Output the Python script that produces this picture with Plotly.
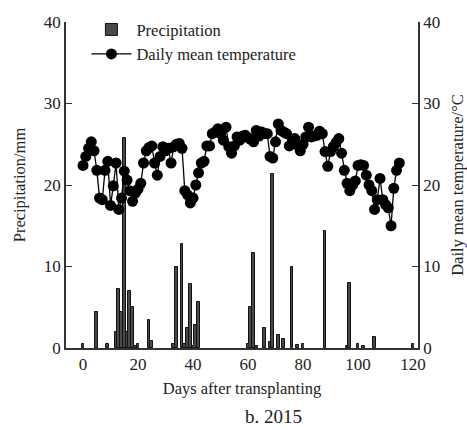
import plotly.graph_objects as go

# Daily mean temperature (°C), days 0..115
temp_days = list(range(0, 116))
temperature = [
    22.4, 23.5, 24.5, 25.3, 24.2, 21.8, 18.4, 18.2, 21.8, 22.9,
    17.5, 19.9, 22.7, 17.0, 18.4, 21.7, 20.6, 19.3, 18.0, 19.0,
    19.5, 20.2, 22.7, 24.2, 24.6, 24.8, 22.7, 21.2, 23.5, 24.7,
    24.2, 24.5, 22.7, 24.7, 25.0, 25.1, 24.5, 19.3, 18.8, 17.8,
    18.4, 20.0, 21.5, 22.7, 22.9, 24.8, 24.8, 26.3, 26.5, 26.9,
    26.3, 25.5, 27.1, 24.7, 23.9, 24.8, 25.9, 25.5, 26.0, 26.1,
    25.8, 25.6, 25.3, 26.7, 26.0, 26.5, 26.3, 26.3, 23.5, 23.3,
    25.3, 27.5, 26.7, 26.5, 26.3, 24.8, 25.2, 25.7, 24.9, 24.2,
    25.0, 25.9, 27.1, 25.9, 26.0, 26.1, 26.6, 26.3, 24.1, 22.3,
    24.1, 24.7, 25.2, 25.7, 23.9, 21.8, 20.2, 19.3, 20.0, 20.5,
    22.4, 22.5, 22.4, 21.2, 20.0, 19.3, 17.0, 18.2, 20.8, 18.2,
    17.6, 17.2, 15.0, 19.6, 21.8, 22.7,
]

# Precipitation (mm)
precip_days = [0, 5, 9, 12, 13, 14, 15, 16, 17, 18, 19, 20, 24, 25,
               33, 34, 36, 37, 38, 39, 40, 41, 42,
               60, 61, 62, 63, 66, 68, 69, 71, 73, 76, 78, 80,
               88, 96, 97, 100, 102, 106, 120]
precipitation = [0.5, 4.4, 0.5, 2.0, 7.2, 4.4, 25.8, 2.0, 7.0, 5.0, 0.3, 0.5, 3.4, 0.9,
                 0.5, 10.0, 12.8, 0.5, 2.5, 7.8, 0.3, 2.8, 5.6,
                 0.5, 5.0, 11.7, 0.3, 2.5, 0.7, 21.3, 1.6, 1.05, 10.0, 0.35, 0.5,
                 14.4, 0.3, 8.0, 0.5, 0.2, 1.4, 0.5]

x_ticks = [0, 20, 40, 60, 80, 100, 120]
y_ticks = [0, 10, 20, 30, 40]

FONT = "Liberation Serif"
AX = "#333333"

fig = go.Figure()
fig.add_trace(go.Bar(
    x=precip_days, y=precipitation, name="Precipitation",
    width=1.0, legendgroup="p",
    marker=dict(color="#4a4a4a", line=dict(color="#111111", width=1)),
    yaxis="y",
))
fig.add_trace(go.Scatter(
    x=temp_days, y=temperature, name="Daily mean temperature",
    mode="lines+markers", legendgroup="t",
    line=dict(color="black", width=1.3),
    marker=dict(color="black", size=11, symbol="circle"),
    yaxis="y2",
))

fig.update_layout(
    width=467, height=430,
    margin=dict(l=66, r=49, t=17, b=82),
    paper_bgcolor="white", plot_bgcolor="white",
    font=dict(family=FONT, size=16.5, color="#222222"),
    showlegend=True,
    legend=dict(x=0.058, y=1.03, xanchor="left", yanchor="top",
                bgcolor="rgba(0,0,0,0)", font=dict(size=16.5),
                itemwidth=40, traceorder="grouped", tracegroupgap=0),
    bargap=0,
    xaxis=dict(
        range=[-6.2, 121.8], tickmode="array", tickvals=x_ticks,
        ticks="inside", ticklen=5, tickcolor=AX,
        tickfont=dict(size=17), automargin=False,
        showline=True, linecolor=AX, linewidth=1.5,
        showgrid=False, zeroline=False,
        title=dict(text="Days after transplanting", standoff=9,
                   font=dict(size=16.5)),
    ),
    yaxis=dict(
        range=[0, 40], tickmode="array", tickvals=y_ticks,
        ticks="inside", ticklen=6, tickcolor=AX,
        tickfont=dict(size=17), automargin=False,
        showline=True, linecolor=AX, linewidth=1.5,
        showgrid=False, zeroline=False,
        title=dict(text="Precipitation/mm", standoff=14,
                   font=dict(size=16.5)),
    ),
    yaxis2=dict(
        range=[0, 40], tickmode="array", tickvals=y_ticks,
        overlaying="y", side="right",
        ticks="inside", ticklen=6, tickcolor=AX,
        tickfont=dict(size=17), automargin=False,
        showline=True, linecolor=AX, linewidth=1.5,
        showgrid=False, zeroline=False,
        title=dict(text="Daily mean temperature/°C", standoff=20,
                   font=dict(size=16.5)),
    ),
    annotations=[dict(
        text="b. 2015", xref="paper", yref="paper", x=0.59, y=-0.2115,
        xanchor="center", yanchor="middle", showarrow=False,
        font=dict(family=FONT, size=19),
    )],
)

fig.write_html("out.html")
